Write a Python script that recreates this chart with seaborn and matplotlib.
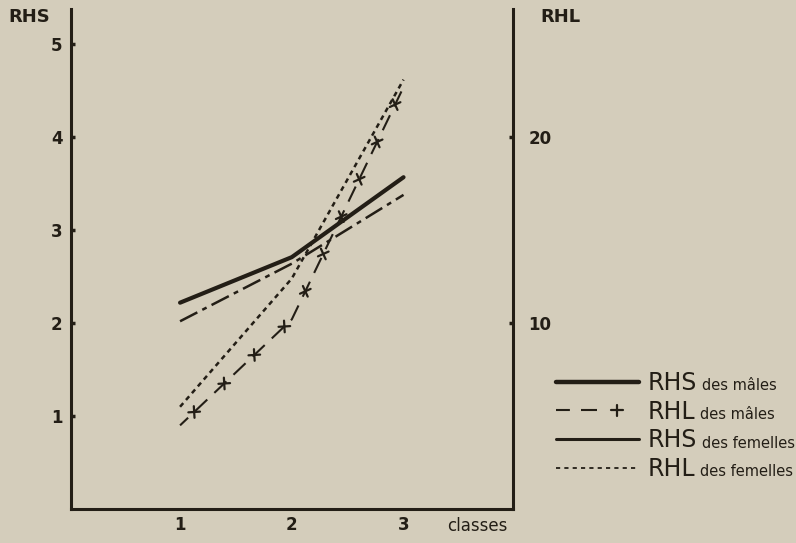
import numpy as np
import pandas as pd
import matplotlib
matplotlib.use('Agg')
import matplotlib.pyplot as plt
import matplotlib.patheffects as pe
from matplotlib.lines import Line2D
from matplotlib.text import Annotation
from matplotlib.legend_handler import HandlerTuple
import seaborn as sns

# values
classes = [1, 2, 3]
rhs_males = [2.22, 2.71, 3.57]
rhs_females = [2.02, 2.64, 3.38]
rhl_males = [4.5, 10.2, 22.7]
rhl_females = [5.5, 12.4, 23.1]

legend_big = ['RHS', 'RHL', 'RHS', 'RHL']
legend_small = ['des mâles', 'des mâles', 'des femelles', 'des femelles']

ink = '#231e16'
paper = '#d4cdbb'

sns.set_theme(style='white', rc={'axes.facecolor': paper, 'figure.facecolor': paper,
                                 'savefig.facecolor': paper})
plt.rcParams['font.family'] = ['DejaVu Sans']
plt.rcParams['lines.scale_dashes'] = False

fig = plt.figure(figsize=(7.96, 5.43), dpi=100)
ax = fig.add_axes([0.0892, 0.0626, 0.5553, 0.9208])
ax2 = ax.twinx()


def crosses(angles):
    # small "+" marks along a path, built from four short ticks
    return [pe.TickedStroke(spacing=28, angle=a, length=0.15, linewidth=1.6, foreground=ink)
            for a in angles]


sns.lineplot(x=classes, y=rhs_males, ax=ax, color=ink, linewidth=3.0)
sns.lineplot(x=classes, y=rhs_females, ax=ax, color=ink, linewidth=1.8)
ax.lines[-1].set_linestyle((0, (14, 4, 3.5, 4)))

sns.lineplot(x=classes, y=rhl_males, ax=ax2, color=ink, linewidth=1.5)
ax2.lines[-1].set_linestyle((4, (12, 7)))
sns.lineplot(x=classes, y=rhl_males, ax=ax2, color=ink, linewidth=1.5)
ax2.lines[-1].set_path_effects(crosses((-40, 50, 140, -130)))
sns.lineplot(x=classes, y=rhl_females, ax=ax2, color=ink, linewidth=1.8)
ax2.lines[-1].set_linestyle((0, (3.5, 3)))

ax.set_xlim(0.024, 3.98)
ax.set_ylim(0, 5.38)
ax2.set_ylim(0, 26.9)
ax.set_xticks(classes)
ax.set_yticks([1, 2, 3, 4, 5])
ax2.set_yticks([10, 20])
ax.set_xlabel('')
ax.set_ylabel('')
ax2.set_ylabel('')

ax.tick_params(axis='both', direction='in', length=3, width=2.5, colors=ink,
               labelsize=12, pad=6)
ax.tick_params(axis='x', pad=5)
ax2.tick_params(axis='y', direction='in', length=3, width=2.5, colors=ink,
                labelsize=12, pad=11)
for lab in ax.get_xticklabels() + ax.get_yticklabels() + ax2.get_yticklabels():
    lab.set_fontweight('bold')

for a in (ax, ax2):
    a.spines['top'].set_visible(False)
    for s in a.spines.values():
        s.set_linewidth(2.2)
        s.set_color(ink)
ax.spines['right'].set_visible(False)
ax2.spines['left'].set_visible(False)
ax2.spines['bottom'].set_visible(False)

fig.text(8 / 796, 1 - 22 / 543, 'RHS', fontsize=13, color=ink, va='baseline', fontweight='bold')
fig.text(540 / 796, 1 - 22 / 543, 'RHL', fontsize=13, color=ink, va='baseline', fontweight='bold')
fig.text(447 / 796, 1 - 531 / 543, 'classes', fontsize=12, color=ink, va='baseline')

handles = [
    Line2D([], [], color=ink, lw=3.2),
    (Line2D([], [], color=ink, lw=1.5, linestyle=(13, (23, 8))),
     Line2D([], [], color=ink, lw=1.5, path_effects=crosses((0, 90, 180, -90)))),
    Line2D([], [], color=ink, lw=2.2),
    Line2D([], [], color=ink, lw=1.3, linestyle=(0, (3, 3))),
]
leg = fig.legend(handles, legend_big, loc='upper left',
                 bbox_to_anchor=(556 / 796, 1 - 371 / 543), frameon=False,
                 fontsize=17, handlelength=3.5, handletextpad=0.4,
                 labelspacing=0.2, borderpad=0, borderaxespad=0,
                 handler_map={tuple: HandlerTuple(ndivide=None)})
for txt in leg.get_texts():
    txt.set_color(ink)

fig.canvas.draw()
for txt, small in zip(leg.get_texts(), legend_small):
    note = Annotation(small, xy=(1, 0.2), xycoords=txt, xytext=(3, 0),
                      textcoords='offset points', va='baseline', ha='left',
                      fontsize=10.5, color=ink, zorder=10)
    fig.add_artist(note)

fig.savefig('out.png', dpi=100)
